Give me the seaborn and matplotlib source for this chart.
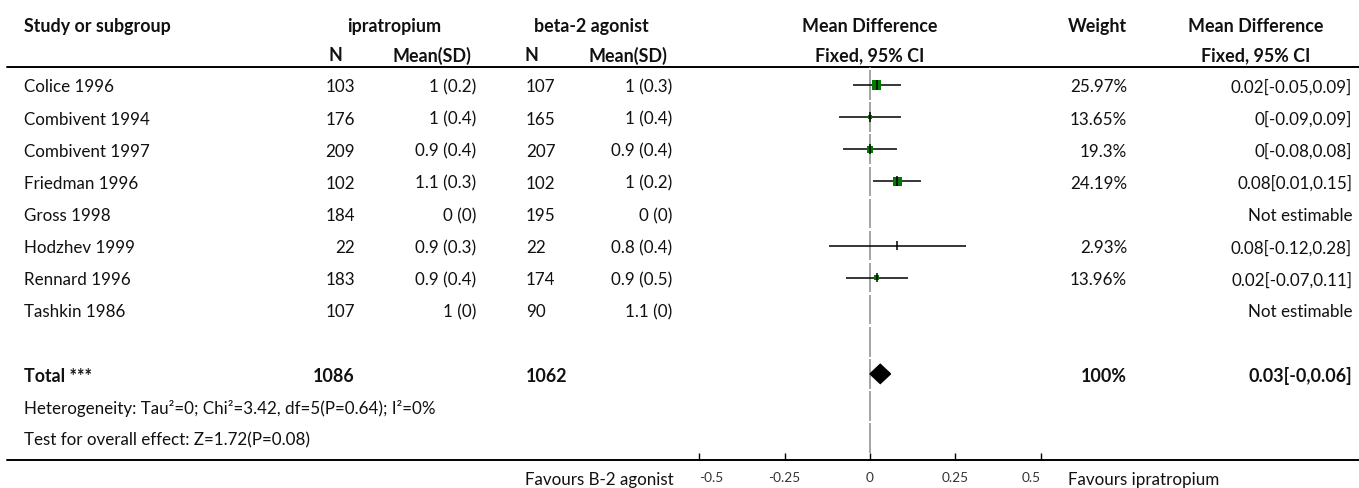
import numpy as np
import matplotlib
matplotlib.use("Agg")
import matplotlib.pyplot as plt
import seaborn as sns
import pandas as pd
from matplotlib.patches import Polygon

sns.set_theme(style="white")
plt.rcParams['font.family'] = ['Lato', 'DejaVu Sans']

# ---------------- data ----------------
studies = ["Colice 1996", "Combivent 1994", "Combivent 1997", "Friedman 1996",
           "Gross 1998", "Hodzhev 1999", "Rennard 1996", "Tashkin 1986"]
ipr_n = [103, 176, 209, 102, 184, 22, 183, 107]
ipr_mean = [1, 1, 0.9, 1.1, 0, 0.9, 0.9, 1]
ipr_sd = [0.2, 0.4, 0.4, 0.3, 0, 0.3, 0.4, 0]
beta_n = [107, 165, 207, 102, 195, 22, 174, 90]
beta_mean = [1, 1, 0.9, 1, 0, 0.8, 0.9, 1.1]
beta_sd = [0.3, 0.4, 0.4, 0.2, 0, 0.4, 0.5, 0]
md = [0.02, 0, 0, 0.08, np.nan, 0.08, 0.02, np.nan]
md_lo = [-0.05, -0.09, -0.08, 0.01, np.nan, -0.12, -0.07, np.nan]
md_hi = [0.09, 0.09, 0.08, 0.15, np.nan, 0.28, 0.11, np.nan]
weight = [25.97, 13.65, 19.3, 24.19, np.nan, 2.93, 13.96, np.nan]

total_ipr_n = 1086
total_beta_n = 1062
total_md = 0.03
total_lo = -0.0
total_hi = 0.06
heterogeneity = "Heterogeneity: Tau\u00b2=0; Chi\u00b2=3.42, df=5(P=0.64); I\u00b2=0%"
overall = "Test for overall effect: Z=1.72(P=0.08)"
xticks = [-0.5, -0.25, 0, 0.25, 0.5]
xticklabels = ["-0.5", "-0.25", "0", "0.25", "0.5"]
left_label = "Favours B-2 agonist"
right_label = "Favours ipratropium"

df = pd.DataFrame(dict(study=studies, md=md, lo=md_lo, hi=md_hi, w=weight))
df["row"] = np.arange(len(df))

# ---------------- layout ----------------
W, H = 1359, 489
fig = plt.figure(figsize=(W / 100, H / 100), dpi=100)
bg = fig.add_axes([0, 0, 1, 1])
bg.set_xlim(0, W)
bg.set_ylim(H, 0)
bg.axis("off")
renderer = fig.canvas.get_renderer()

def fit_size(text, target_px, weight="normal", base=10.0):
    t = bg.text(0, 0, text, fontsize=base, fontweight=weight)
    w = t.get_window_extent(renderer=renderer).width
    t.remove()
    return base * target_px / w

FS = (fit_size(overall, 283) + fit_size(heterogeneity, 416)) / 2
FSB = (fit_size("Mean Difference", 132, "bold") + fit_size("Study or subgroup", 150, "bold")) / 2
FST = fit_size("-0.25", 32)

row0, rstep = 86.0, 32.1
def ypx(i):
    return row0 + rstep * i

kw = dict(fontsize=FS, color="#111111", va="center_baseline")
bkw = dict(kw, fontsize=FSB, fontweight="bold")

# header
bg.text(24, 25, "Study or subgroup", ha="left", **bkw)
bg.text(394, 25, "ipratropium", ha="center", **bkw)
bg.text(591, 25, "beta-2 agonist", ha="center", **bkw)
bg.text(870, 25, "Mean Difference", ha="center", **bkw)
bg.text(1127, 25, "Weight", ha="right", **bkw)
bg.text(1256, 25, "Mean Difference", ha="center", **bkw)
bg.text(328, 54, "N", ha="left", **bkw)
bg.text(393, 54, "Mean(SD)", ha="left", **bkw)
bg.text(524, 54, "N", ha="left", **bkw)
bg.text(589, 54, "Mean(SD)", ha="left", **bkw)
bg.text(870, 54, "Fixed, 95% CI", ha="center", **bkw)
bg.text(1256, 54, "Fixed, 95% CI", ha="center", **bkw)

bg.plot([7, W], [67.5, 67.5], color="black", lw=1.4)
bg.plot([7, W], [461, 461], color="black", lw=1.4)

for i in range(len(studies)):
    y = ypx(i)
    bg.text(24, y, studies[i], ha="left", **kw)
    bg.text(355, y, f"{ipr_n[i]}", ha="right", **kw)
    bg.text(476, y, f"{ipr_mean[i]:g} ({ipr_sd[i]:g})", ha="right", **kw)
    bg.text(526, y, f"{beta_n[i]}", ha="left", **kw)
    bg.text(672, y, f"{beta_mean[i]:g} ({beta_sd[i]:g})", ha="right", **kw)
    if np.isnan(md[i]):
        bg.text(1352, y, "Not estimable", ha="right", **kw)
    else:
        bg.text(1127, y, f"{weight[i]:g}%", ha="right", **kw)
        bg.text(1352, y, f"{md[i]:g}[{md_lo[i]:g},{md_hi[i]:g}]", ha="right", **kw)

yt = ypx(9)
bg.text(24, yt, "Total ***", ha="left", **bkw)
bg.text(355, yt, f"{total_ipr_n}", ha="right", **bkw)
bg.text(526, yt, f"{total_beta_n}", ha="left", **bkw)
bg.text(1127, yt, "100%", ha="right", **bkw)
bg.text(1352, yt, f"{total_md:g}[{total_lo:g},{total_hi:g}]", ha="right", **bkw)
bg.text(24, ypx(10), heterogeneity, ha="left", **kw)
bg.text(24, ypx(11), overall, ha="left", **kw)

bg.text(674, 479, left_label, ha="right", **kw)
bg.text(1068, 479, right_label, ha="left", **kw)

# ---------------- forest axes ----------------
ax = fig.add_axes([699 / W, (H - 461) / H, 342 / W, (461 - 67.5) / H])
ax.patch.set_alpha(0)
ax.set_xlim(-0.5, 0.5)
ax.set_ylim((461 - row0) / rstep, -(row0 - 67.5) / rstep)
for s in ["top", "left", "right", "bottom"]:
    ax.spines[s].set_visible(False)

# zero line (segmented per row)
nrows = 12
rows_all = np.arange(nrows)
ax.vlines(np.zeros(nrows), rows_all - 0.46, rows_all + 0.46,
          color="#8a8a8a", lw=1.1, zorder=1)
ax.vlines([0], [-0.58], [-0.54], color="#8a8a8a", lw=1.1, zorder=1)

est = df.dropna()
ax.hlines(est["row"], est["lo"], est["hi"], color="black", lw=1.1, zorder=2)
sizes = (est["w"] * 0.35 * 0.72) ** 2
sns.scatterplot(data=est, x="md", y="row", marker="s", s=sizes.values,
                color="#007a00", edgecolor="none", linewidth=0, ax=ax,
                zorder=3, legend=False)
ax.vlines(est["md"], est["row"] - 0.15, est["row"] + 0.15, color="black",
          lw=1.1, zorder=4)

dh = 0.3
diamond = Polygon([[total_lo, 9], [total_md, 9 - dh], [total_hi, 9], [total_md, 9 + dh]],
                  closed=True, facecolor="black", edgecolor="black", zorder=5)
ax.add_patch(diamond)

ax.set_xlabel("")
ax.set_ylabel("")
ax.set_yticks([])
ax.set_xticks(xticks)
labs = ax.set_xticklabels(xticklabels, fontsize=FST, color="#333333")
labs[0].set_horizontalalignment("left")
labs[-1].set_horizontalalignment("right")
ax.tick_params(axis="x", direction="in", length=5, width=1, color="black", pad=8,
               bottom=True)

fig.savefig("out.png", dpi=100)
